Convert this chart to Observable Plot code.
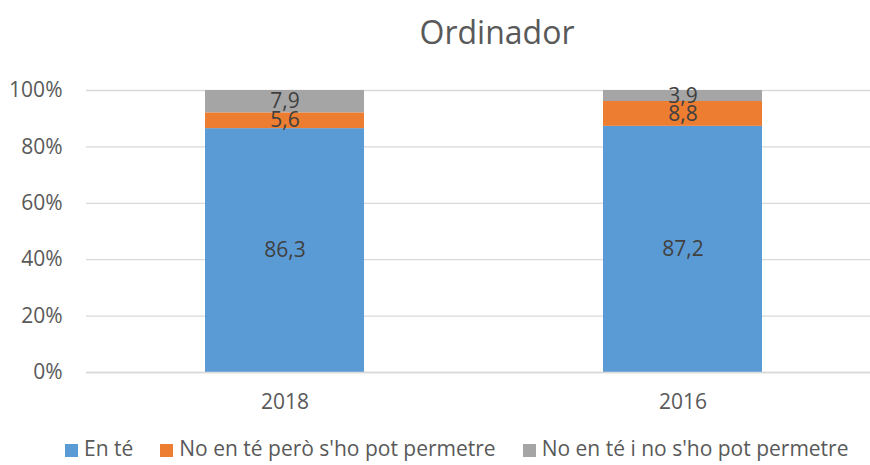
<!DOCTYPE html>
<html><head><meta charset="utf-8">
<script src="https://cdn.jsdelivr.net/npm/d3@7"></script>
<script src="https://cdn.jsdelivr.net/npm/@observablehq/plot@0.6"></script>
<style>
html,body{margin:0;padding:0;background:#fff;}
body{width:870px;height:465px;overflow:hidden;position:relative;font-family:"Open Sans",sans-serif;}
#title{position:absolute;left:0;top:11px;width:994px;text-align:center;font-size:32px;color:#595959;line-height:42px;}
#chart{position:absolute;left:0;top:60px;}
#legend{position:absolute;left:65px;top:438px;display:flex;align-items:center;font-size:21px;color:#595959;line-height:21px;white-space:nowrap;}
.item{display:flex;align-items:center;margin-right:27px;}
.sw{width:13px;height:13px;margin-right:6px;margin-top:3px;}
</style></head><body>
<div id="title">Ordinador</div>
<div id="chart"></div>
<div id="legend"></div>
<script>
const years = ["2018", "2016"];
const seriesNames = ["En té", "No en té però s'ho pot permetre", "No en té i no s'ho pot permetre"];
const seriesColors = ["#5B9BD5", "#ED7D31", "#A5A5A5"];
const enTe = [86.3, 87.2];
const noPeroPot = [5.6, 8.8];
const noINoPot = [7.9, 3.9];
const yTicks = [0, 0.2, 0.4, 0.6, 0.8, 1];

const seriesValues = [enTe, noPeroPot, noINoPot];
const data = [];
seriesNames.forEach((s, i) => years.forEach((y, j) => data.push({year: y, series: s, value: seriesValues[i][j]})));

const fmt = v => String(v).replace(".", ",");

const chart = Plot.plot({
  width: 870,
  height: 370,
  marginTop: 30,
  marginBottom: 58,
  marginLeft: 86,
  marginRight: 0,
  style: {fontFamily: "'Open Sans', sans-serif", fontSize: "21px", color: "#595959", background: "#fff", overflow: "hidden"},
  x: {domain: years, range: [86, 882], paddingInner: 0.6, paddingOuter: 0.3, label: null},
  y: {domain: [0, 1], label: null},
  color: {domain: seriesNames, range: seriesColors},
  marks: [
    Plot.gridY(yTicks, {stroke: "#D9D9D9", strokeOpacity: 1, strokeWidth: 1.3}),
    Plot.axisY(yTicks, {tickSize: 0, tickPadding: 24, tickFormat: d3.format(".0%"), label: null, fontSize: 21}),
    Plot.axisX({tickSize: 0, tickPadding: 22, label: null, fontSize: 21}),
    Plot.barY(data, Plot.stackY({offset: "normalize", x: "year", y: "value", fill: "series"})),
    Plot.text(data, Plot.stackY({offset: "normalize", x: "year", y: "value", text: d => fmt(d.value), fill: "#404040", fontSize: 21})),
    Plot.ruleY([0], {stroke: "#D9D9D9", strokeWidth: 1.3})
  ]
});
document.getElementById("chart").appendChild(chart);

const legend = document.getElementById("legend");
seriesNames.forEach((s, i) => {
  const item = document.createElement("div");
  item.className = "item";
  const sw = document.createElement("div");
  sw.className = "sw";
  sw.style.background = seriesColors[i];
  const t = document.createElement("span");
  t.textContent = s;
  item.appendChild(sw);
  item.appendChild(t);
  legend.appendChild(item);
});
</script>
</body></html>
